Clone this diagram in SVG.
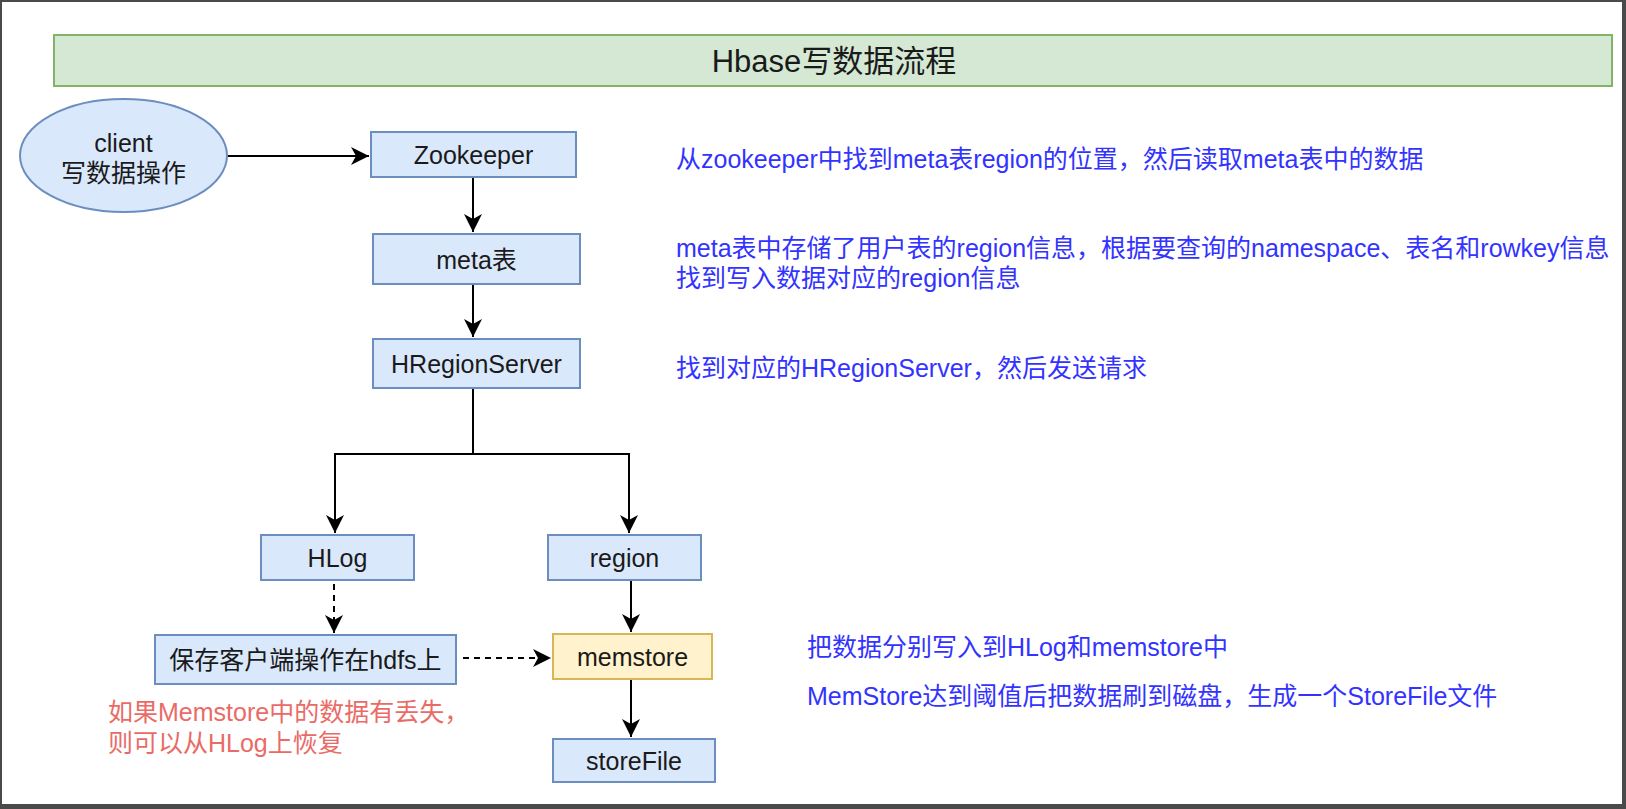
<svg xmlns="http://www.w3.org/2000/svg" width="1626" height="809" viewBox="0 0 1626 809">
<defs>
<style>
text{font-family:"Liberation Sans","Noto Sans CJK SC",sans-serif;}
.n{fill:#dae8fc;stroke:#6c8ebf;stroke-width:2;}
.y{fill:#fff2cc;stroke:#d6b656;stroke-width:2;}
.t{font-size:25px;fill:#1a1a1a;text-anchor:middle;}
.b{font-size:25px;fill:#3333ff;}
.r{font-size:25px;fill:#ea6b66;}
.c{fill:none;stroke:#000;stroke-width:2;}
.d{stroke-dasharray:6 5;}
</style>
<marker id="ah" markerUnits="userSpaceOnUse" viewBox="-19 -10 21 20" refX="0" refY="0" markerWidth="21" markerHeight="20" orient="auto">
<path d="M0,0 L-18,-9 L-13,0 L-18,9 Z" fill="#000"/>
</marker>
</defs>
<rect x="0" y="0" width="1626" height="809" fill="#4a4a4a"/>
<rect x="2" y="2" width="1620" height="802" fill="#ffffff"/>

<g id="title">
<rect x="54" y="35" width="1558" height="51" fill="#d5e8d4" stroke="#82b366" stroke-width="2"/>
<text x="834" y="72" style="font-size:31px;fill:#1a1a1a;text-anchor:middle">Hbase写数据流程</text>
</g>

<g id="connectors">
<path class="c" d="M227,156 L369,156" marker-end="url(#ah)"/>
<path class="c" d="M473,177 L473,232" marker-end="url(#ah)"/>
<path class="c" d="M473,284 L473,337" marker-end="url(#ah)"/>
<path class="c" d="M473,388 L473,454 L335,454 L335,533" marker-end="url(#ah)"/>
<path class="c" d="M473,454 L629,454 L629,533" marker-end="url(#ah)"/>
<path class="c d" d="M334,584 L334,633" marker-end="url(#ah)"/>
<path class="c d" d="M463,658 L551,658" marker-end="url(#ah)"/>
<path class="c" d="M631,580 L631,632" marker-end="url(#ah)"/>
<path class="c" d="M631,679 L631,737" marker-end="url(#ah)"/>
</g>

<g id="client">
<ellipse class="n" cx="123.5" cy="155.5" rx="103.5" ry="56.5"/>
<text class="t" x="123.5" y="152">client</text>
<text class="t" x="123.5" y="182">写数据操作</text>
</g>
<g id="zookeeper">
<rect class="n" x="371" y="132" width="205" height="45"/>
<text class="t" x="473.5" y="164">Zookeeper</text>
</g>
<g id="meta">
<rect class="n" x="373" y="234" width="207" height="50"/>
<text class="t" x="476.5" y="269">meta表</text>
</g>
<g id="hregionserver">
<rect class="n" x="373" y="339" width="207" height="49"/>
<text class="t" x="476.5" y="373">HRegionServer</text>
</g>
<g id="hlog">
<rect class="n" x="261" y="535" width="153" height="45"/>
<text class="t" x="337.5" y="567">HLog</text>
</g>
<g id="region">
<rect class="n" x="548" y="535" width="153" height="45"/>
<text class="t" x="624.5" y="567">region</text>
</g>
<g id="hdfs">
<rect class="n" x="155" y="635" width="301" height="49"/>
<text class="t" x="305.5" y="669">保存客户端操作在hdfs上</text>
</g>
<g id="memstore">
<rect class="y" x="553" y="634" width="159" height="45"/>
<text class="t" x="632.5" y="666">memstore</text>
</g>
<g id="storefile">
<rect class="n" x="553" y="739" width="162" height="43"/>
<text class="t" x="634" y="770">storeFile</text>
</g>

<g id="notes">
<text class="b" x="676" y="168">从zookeeper中找到meta表region的位置，然后读取meta表中的数据</text>
<text class="b" x="676" y="257">meta表中存储了用户表的region信息，根据要查询的namespace、表名和rowkey信息</text>
<text class="b" x="676" y="287">找到写入数据对应的region信息</text>
<text class="b" x="676" y="377">找到对应的HRegionServer，然后发送请求</text>
<text class="b" x="807" y="656">把数据分别写入到HLog和memstore中</text>
<text class="b" x="807" y="705">MemStore达到阈值后把数据刷到磁盘，生成一个StoreFile文件</text>
<text class="r" x="108" y="721">如果Memstore中的数据有丢失，</text>
<text class="r" x="108" y="752">则可以从HLog上恢复</text>
</g>
</svg>
